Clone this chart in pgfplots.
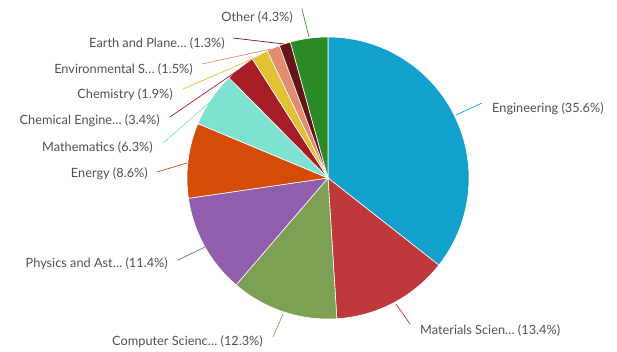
\documentclass[border=0pt]{standalone}
\usepackage{pgfplots}
\pgfplotsset{compat=1.18}
\usepackage{pgfplotstable}
\usepgfplotslibrary{polar}
\usepackage{fontspec}
\setmainfont{Lato}
\definecolor{cEng}{RGB}{18,160,205}
\definecolor{cMat}{RGB}{191,56,59}
\definecolor{cCS}{RGB}{125,160,84}
\definecolor{cPhy}{RGB}{145,94,174}
\definecolor{cEnergy}{RGB}{213,76,9}
\definecolor{cMath}{RGB}{125,226,207}
\definecolor{cChemEng}{RGB}{166,29,40}
\definecolor{cChem}{RGB}{224,194,52}
\definecolor{cEnv}{RGB}{226,140,112}
\definecolor{cEarth}{RGB}{102,20,24}
\definecolor{cOther}{RGB}{44,138,38}
\definecolor{txt}{RGB}{80,80,80}

\pgfplotstableread[col sep=comma]{
name,pct,col
Engineering,35.6,cEng
Materials Science,13.4,cMat
Computer Science,12.3,cCS
Physics and Astronomy,11.4,cPhy
Energy,8.6,cEnergy
Mathematics,6.3,cMath
Chemical Engineering,3.4,cChemEng
Chemistry,1.9,cChem
Environmental Science,1.5,cEnv
Earth and Planetary Sciences,1.3,cEarth
Other,4.3,cOther
}\slices

\begin{document}
\begin{tikzpicture}
\begin{polaraxis}[at={(328bp,174bp)}, anchor=center, width=282bp, height=282bp,
  scale only axis, hide axis, ymin=0, ymax=1, clip=false]
\pgfplotstablegetrowsof{\slices}
\pgfmathtruncatemacro\N{\pgfplotsretval-1}
\def\cum{0}
\pgfplotsforeachungrouped \i in {0,...,\N}{%
  \pgfplotstablegetelem{\i}{pct}\of\slices \let\p\pgfplotsretval
  \pgfplotstablegetelem{\i}{col}\of\slices \let\c\pgfplotsretval
  \pgfmathsetmacro\a{90-3.6*\cum}%
  \pgfmathsetmacro\b{90-3.6*(\cum+\p)}%
  \edef\cmd{\noexpand\addplot[fill=\c, draw=white, line width=0.6pt, domain=\b:\a, samples=60] {1} -- (axis cs:0,0) -- cycle;}%
  \cmd
  \pgfmathsetmacro\cum{\cum+\p}%
}
\end{polaraxis}
\begin{axis}[at={(0,0)}, anchor=south west, width=617bp, height=352bp,
  scale only axis, xmin=0, xmax=617, ymin=0, ymax=352, y dir=reverse,
  hide axis, clip=false]
\path (axis cs:0,0) rectangle (axis cs:617,352);
\addplot[cEng, line width=0.7pt] coordinates {(482,103) (456,115)};
\addplot[cMat, line width=0.7pt] coordinates {(410,324) (396,304)};
\addplot[cCS, line width=0.7pt] coordinates {(273,337) (283,314)};
\addplot[cPhy, line width=0.7pt] coordinates {(178,260) (205,247)};
\addplot[cEnergy, line width=0.7pt] coordinates {(157,172) (187,163)};
\addplot[cMath, line width=0.7pt] coordinates {(163,143) (209,103)};
\addplot[cChemEng, line width=0.7pt] coordinates {(170,117) (237,71)};
\addplot[cChem, line width=0.7pt] coordinates {(183,89) (257,57)};
\addplot[cEnv, line width=0.7pt] coordinates {(202,64) (271,49)};
\addplot[cEarth, line width=0.7pt] coordinates {(233,38) (284,44)};
\addplot[cOther, line width=0.7pt] coordinates {(302,9) (309,37)};
\begin{scope}[every node/.style={text=txt, font=\fontsize{12.8}{15}\selectfont, inner sep=0pt}]
\node[anchor=west] at (axis cs:492,109) {Engineering (35.6\%)};
\node[anchor=west] at (axis cs:420,330) {Materials Scien… (13.4\%)};
\node[anchor=east] at (axis cs:263,342) {Computer Scienc… (12.3\%)};
\node[anchor=east] at (axis cs:168,264) {Physics and Ast… (11.4\%)};
\node[anchor=east] at (axis cs:148,174) {Energy (8.6\%)};
\node[anchor=east] at (axis cs:153,147) {Mathematics (6.3\%)};
\node[anchor=east] at (axis cs:160,121) {Chemical Engine… (3.4\%)};
\node[anchor=east] at (axis cs:173,95) {Chemistry (1.9\%)};
\node[anchor=east] at (axis cs:193,69) {Environmental S… (1.5\%)};
\node[anchor=east] at (axis cs:225,43) {Earth and Plane… (1.3\%)};
\node[anchor=east] at (axis cs:293,17) {Other (4.3\%)};
\end{scope}
\end{axis}
\end{tikzpicture}
\end{document}
